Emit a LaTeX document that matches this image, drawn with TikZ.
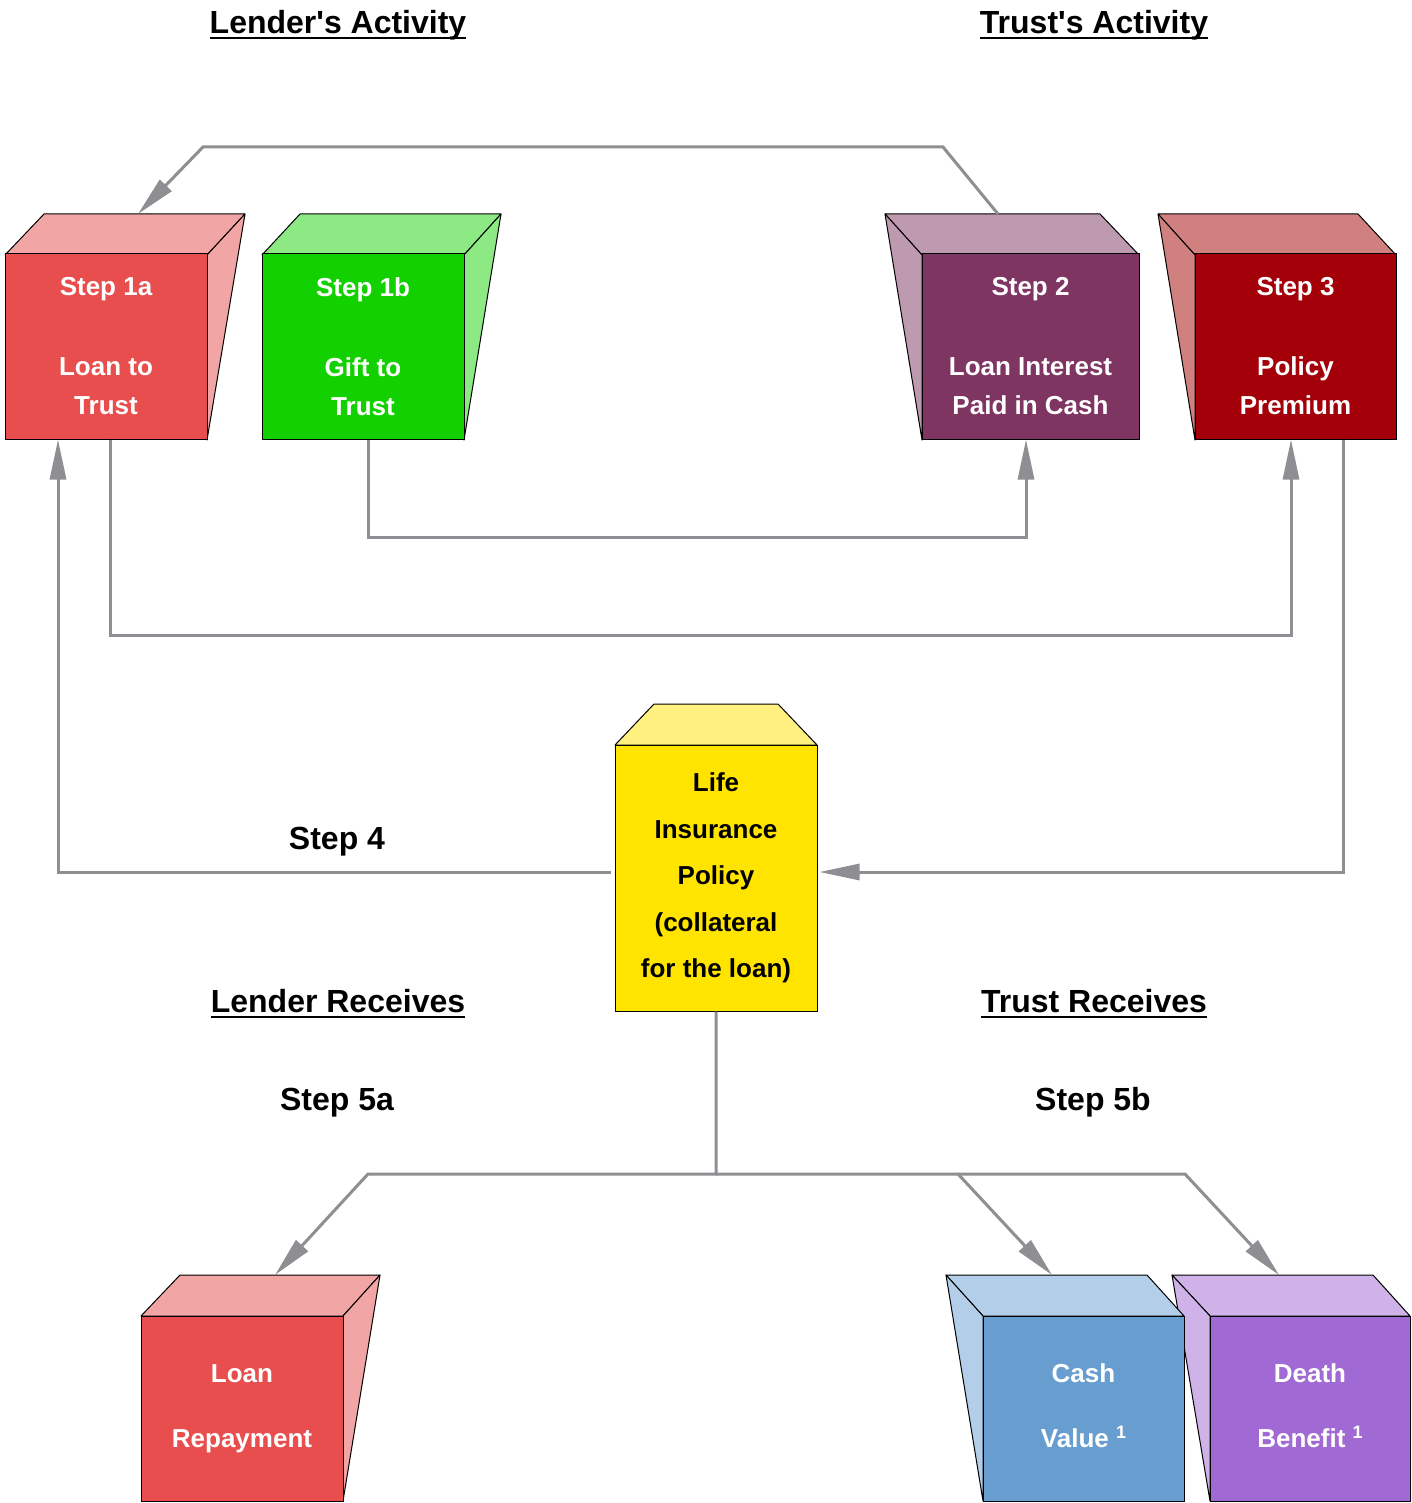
\documentclass[tikz,border=0pt]{standalone}
\usepackage{fontspec}
\setmainfont{Liberation Sans}[Ligatures=TeXOff]
\usetikzlibrary{arrows.meta}
\definecolor{redF}{HTML}{E84E4E}\definecolor{redL}{HTML}{F2A5A5}
\definecolor{grnF}{HTML}{13D000}\definecolor{grnL}{HTML}{8CE983}
\definecolor{purF}{HTML}{7E3562}\definecolor{purL}{HTML}{BE9AB0}
\definecolor{drkF}{HTML}{A3000A}\definecolor{drkL}{HTML}{D18080}
\definecolor{yelF}{HTML}{FFE400}\definecolor{yelL}{HTML}{FFF080}
\definecolor{bluF}{HTML}{689DCF}\definecolor{bluL}{HTML}{B3CEE8}
\definecolor{vioF}{HTML}{A069D4}\definecolor{vioL}{HTML}{CFB2E8}
\definecolor{connc}{HTML}{8F8F93}
\newcommand\supone{\smash{\raisebox{9pt}{\fontsize{18}{18}\selectfont 1}}\vphantom{y}}
\begin{document}
\begin{tikzpicture}[x=1pt,y=-1pt,
  face/.style={draw=black,line width=1pt,line join=round},
  front/.style={draw=black,line width=1pt,inner sep=0pt,align=center,text=white,
    minimum width=202pt,minimum height=185pt,
    font=\fontsize{26}{39}\selectfont\bfseries},
  ttl/.style={inner sep=0pt,anchor=base,font=\fontsize{32}{38}\selectfont\bfseries},
  uline/.style={line width=2.6pt},
  conn/.style={draw=connc,line width=3pt},
  arr/.style={conn,-{Triangle[length=40pt,width=16pt]}}]
\useasboundingbox[fill=white] (0,0) rectangle (1411,1503);

% ---- Step 1a
\filldraw[face,fill=redL] (5,255) -- (44,214) -- (245,214) -- (207,255) -- cycle;
\filldraw[face,fill=redL] (207,255) -- (245,214) -- (207,440) -- cycle;
\node[front,fill=redF] (s1a) at (106,346.5) {Step 1a\\[41pt]Loan to\\Trust};
% ---- Step 1b
\filldraw[face,fill=grnL] (262,255) -- (300,214) -- (501,214) -- (464,255) -- cycle;
\filldraw[face,fill=grnL] (464,255) -- (501,214) -- (464,440) -- cycle;
\node[front,fill=grnF] (s1b) at (363,346.5) {Step 1b\\[41pt]Gift to\\Trust};
% ---- Step 2
\filldraw[face,fill=purL] (922,255) -- (885,214) -- (1100,214) -- (1139,255) -- cycle;
\filldraw[face,fill=purL] (922,255) -- (885,214) -- (922,440) -- cycle;
\node[front,fill=purF,minimum width=217pt] (s2) at (1030.5,346.5) {Step 2\\[41pt]Loan Interest\\Paid in Cash};
% ---- Step 3
\filldraw[face,fill=drkL] (1195,255) -- (1158,214) -- (1358,214) -- (1396,255) -- cycle;
\filldraw[face,fill=drkL] (1195,255) -- (1158,214) -- (1195,440) -- cycle;
\node[front,fill=drkF,minimum width=201pt] (s3) at (1295.5,346.5) {Step 3\\[41pt]Policy\\Premium};
% ---- Life insurance policy
\filldraw[face,fill=yelL] (615,745) -- (654,704) -- (778,704) -- (817,745) -- cycle;
\node[front,fill=yelF,text=black,minimum height=266pt,
  font=\fontsize{26}{46.5}\selectfont\bfseries] (yel) at (716,878)
  {Life\\Insurance\\Policy\\(collateral\\for the loan)};
% ---- Loan repayment
\filldraw[face,fill=redL] (141,1316) -- (180,1275) -- (380,1275) -- (343,1316) -- cycle;
\filldraw[face,fill=redL] (343,1316) -- (380,1275) -- (343,1501) -- cycle;
\node[front,fill=redF] (rep) at (242,1408.5) {Loan\\[26pt]Repayment};
% ---- Death benefit
\filldraw[face,fill=vioL] (1210,1316) -- (1172,1275) -- (1373,1275) -- (1410,1316) -- cycle;
\filldraw[face,fill=vioL] (1210,1316) -- (1172,1275) -- (1210,1501) -- cycle;
\node[front,fill=vioF,minimum width=200pt] (dth) at (1310,1408.5) {Death\\[26pt]Benefit \supone};
% ---- Cash value
\filldraw[face,fill=bluL] (983,1316) -- (946,1275) -- (1147,1275) -- (1184,1316) -- cycle;
\filldraw[face,fill=bluL] (983,1316) -- (946,1275) -- (983,1501) -- cycle;
\node[front,fill=bluF,minimum width=201pt] (csh) at (1083.5,1408.5) {Cash\\[26pt]Value \supone};

% ---- connector end points on the top faces
\coordinate (t1a) at (138,214);
\coordinate (t2) at (998,214);
\coordinate (trep) at (275,1275);
\coordinate (tcsh) at (1052,1275);
\coordinate (tdth) at (1279,1275);
\coordinate (jL) at (368,1174);
\coordinate (jM) at (716,1174);
\coordinate (jC) at (958,1174);
\coordinate (jR) at (1185,1174);

% ---- connectors
\draw[arr] (t2) -- (943,147) -- (203,147) -- (t1a);
\draw[arr] ([xshift=5pt]s1b.south) -- ++(0,98) -| ([xshift=-4.5pt]s2.south);
\draw[arr] ([xshift=4pt]s1a.south) -- ++(0,196) -| ([xshift=-4.5pt]s3.south);
\draw[arr] ([xshift=47.5pt]s3.south) |- ([xshift=2pt,yshift=6pt]yel.east);
\draw[arr] ([xshift=-4pt,yshift=6pt]yel.west) -| ([xshift=-48pt]s1a.south);
\draw[arr] (yel.south) -- (jM) -- (jL) -- (trep);
\draw[arr] (jM) -- (jC) -- (tcsh);
\draw[arr] (jC) -- (jR) -- (tdth);

% ---- labels
\node[ttl] (h1) at (338,33.5) {Lender's Activity};
\draw[uline] ([yshift=-4.5pt]h1.base west) -- ([yshift=-4.5pt]h1.base east);
\node[ttl] (h2) at (1094,33.5) {Trust's Activity};
\draw[uline] ([yshift=-4.5pt]h2.base west) -- ([yshift=-4.5pt]h2.base east);
\node[ttl] (h3) at (338,1012) {Lender Receives};
\draw[uline] ([yshift=-5pt]h3.base west) -- ([yshift=-5pt]h3.base east);
\node[ttl] (h4) at (1094,1012) {Trust Receives};
\draw[uline] ([yshift=-5pt]h4.base west) -- ([yshift=-5pt]h4.base east);
\node[ttl] (st4) at (337,849.5) {Step 4};
\node[ttl] (st5a) at (337,1110.5) {Step 5a};
\node[ttl] (st5b) at (1093,1110.5) {Step 5b};
\end{tikzpicture}
\end{document}
